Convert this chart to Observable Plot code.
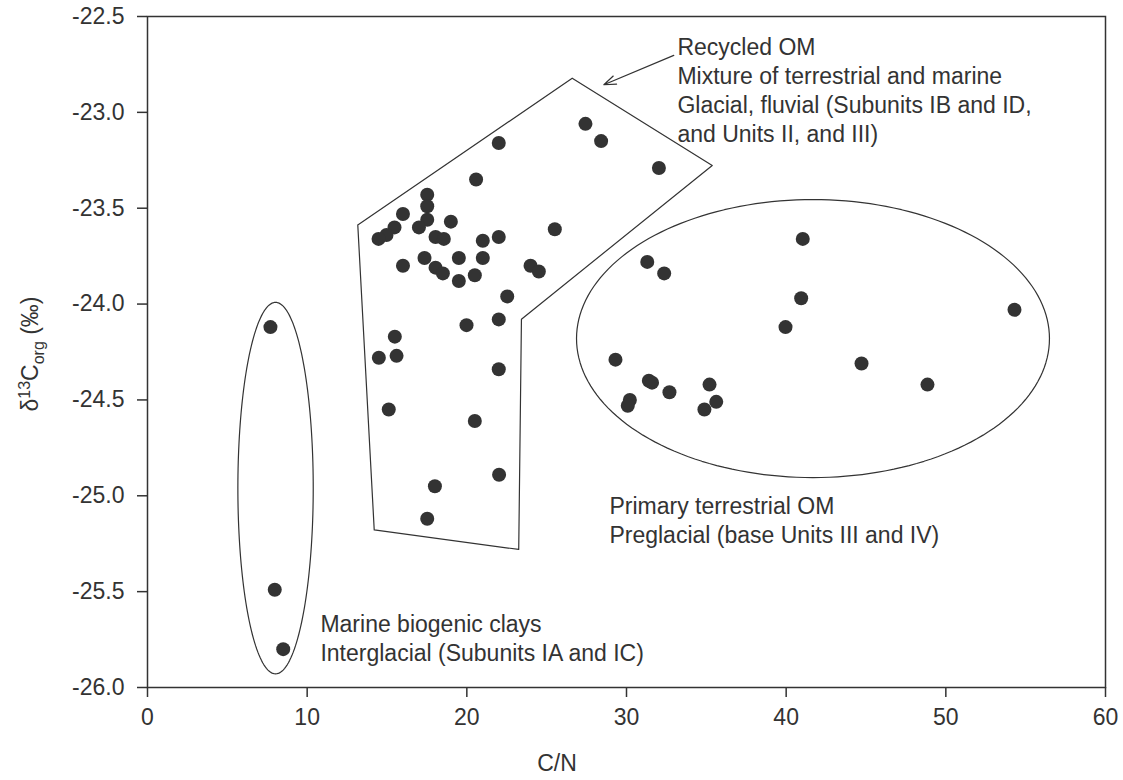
<!DOCTYPE html>
<html><head><meta charset="utf-8">
<script src="https://cdn.jsdelivr.net/npm/d3@7"></script>
<script src="https://cdn.jsdelivr.net/npm/@observablehq/plot@0.6"></script>
<style>
html,body{margin:0;padding:0;background:#fff;}
</style>
</head><body><div id="chart"></div>
<script>
// ---- data ----
const cn = [7.7, 7.97, 8.5,
  22.0, 20.58, 17.52, 17.52, 16.0, 17.52, 19.0, 15.47, 17.0, 14.97, 14.47, 18.04, 18.56, 22.0, 21.0,
  16.0, 17.35, 19.5, 21.0, 18.04, 18.5, 19.5, 20.5, 22.53, 23.99, 24.51, 25.51, 27.43, 28.41,
  22.0, 19.98, 15.49, 14.49, 15.6, 22.0, 15.11, 20.5, 22.02, 18.0, 17.52, 32.03,
  29.31, 31.3, 32.36, 31.4, 31.6, 32.69, 35.2, 35.62, 34.88, 30.21, 30.08,
  41.04, 40.94, 39.96, 44.72, 48.85, 54.3];
const d13c = [-24.12, -25.49, -25.80,
  -23.16, -23.35, -23.43, -23.49, -23.53, -23.56, -23.57, -23.60, -23.60, -23.64, -23.66, -23.65, -23.66, -23.65, -23.67,
  -23.80, -23.76, -23.76, -23.76, -23.81, -23.84, -23.88, -23.85, -23.96, -23.80, -23.83, -23.61, -23.06, -23.15,
  -24.08, -24.11, -24.17, -24.28, -24.27, -24.34, -24.55, -24.61, -24.89, -24.95, -25.12, -23.29,
  -24.29, -23.78, -23.84, -24.40, -24.41, -24.46, -24.42, -24.51, -24.55, -24.50, -24.53,
  -23.66, -23.97, -24.12, -24.31, -24.42, -24.03];

const xTicks = [0, 10, 20, 30, 40, 50, 60];
const yTicks = [-22.5, -23.0, -23.5, -24.0, -24.5, -25.0, -25.5, -26.0];

// recycled-OM outline vertices (data units)
const polyX = [13.17, 26.6, 35.37, 23.42, 23.25, 14.2, 13.17];
const polyY = [-23.587, -22.822, -23.277, -24.079, -25.28, -25.178, -23.587];

// ellipses: centre and half-axes in data units
const ellCx = [8.02, 41.68];
const ellCy = [-24.96, -24.18];
const ellRx = [2.36, 14.81];
const ellRy = [0.969, 0.725];

// arrow (from label to outline)
const arrowFrom = [32.96, -22.703];
const arrowTo = [28.58, -22.856];

const labels = [
  "Recycled OM\nMixture of terrestrial and marine\nGlacial, fluvial (Subunits IB and ID,\nand Units II, and III)",
  "Primary terrestrial OM\nPreglacial (base Units III and IV)",
  "Marine biogenic clays\nInterglacial (Subunits IA and IC)"
];
const labelX = [33.19, 28.93, 10.83];
const labelY = [-22.592, -24.988, -25.602];

// ---- build tables ----
const points = cn.map((x, i) => ({x, y: d13c[i]}));
const poly = polyX.map((x, i) => ({x, y: polyY[i]}));
const ellipses = [];
ellCx.forEach((cx, k) => {
  for (let j = 0; j <= 180; j++) {
    const t = (j / 180) * 2 * Math.PI;
    ellipses.push({k, x: cx + ellRx[k] * Math.cos(t), y: ellCy[k] + ellRy[k] * Math.sin(t)});
  }
});
const labelRows = labels.map((t, i) => ({t, x: labelX[i], y: labelY[i]}));

const ink = "#333";
const fs = 23;
const chart = Plot.plot({
  width: 1123,
  height: 780,
  marginLeft: 147,
  marginRight: 18,
  marginTop: 16,
  marginBottom: 93,
  style: {fontFamily: "'Liberation Sans', Arial, sans-serif", fontSize: fs + "px", color: ink, background: "#fff"},
  x: {domain: [0, 60]},
  y: {domain: [-26, -22.5]},
  marks: [
    Plot.axisX({ticks: xTicks, tickSize: 10, tickPadding: 11, fontSize: fs, label: null, stroke: ink, strokeWidth: 1.5, tickFormat: d => String(d)}),
    Plot.axisY({ticks: yTicks, tickSize: 10, tickPadding: 13, fontSize: fs, label: null, stroke: ink, strokeWidth: 1.5, tickFormat: d => d.toFixed(1)}),
    Plot.frame({stroke: ink, strokeWidth: 1.5}),
    Plot.line(poly, {x: "x", y: "y", stroke: ink, strokeWidth: 1.2}),
    Plot.line(ellipses, {x: "x", y: "y", z: "k", stroke: ink, strokeWidth: 1.2, curve: "linear"}),
    Plot.arrow([0], {x1: () => arrowFrom[0], y1: () => arrowFrom[1], x2: () => arrowTo[0], y2: () => arrowTo[1],
      stroke: ink, strokeWidth: 1.2, headLength: 16, headAngle: 40, bend: 0}),
    Plot.dot(points, {x: "x", y: "y", r: 7, fill: ink, stroke: null}),
    Plot.text(labelRows, {x: "x", y: "y", text: "t", textAnchor: "start", lineAnchor: "top", lineHeight: 29 / fs, fontSize: fs, fill: ink})
  ]
});

// axis titles with super/subscripts
const svg = d3.select(chart);
svg.append("text")
  .attr("x", 557).attr("y", 771)
  .attr("text-anchor", "middle")
  .attr("fill", ink).attr("font-size", fs)
  .text("C/N");
const yl = svg.append("text")
  .attr("transform", "translate(38,354) rotate(-90)")
  .attr("text-anchor", "middle")
  .attr("fill", ink).attr("font-size", fs);
yl.append("tspan").text("δ");
yl.append("tspan").attr("dy", -8).attr("font-size", 16).text("13");
yl.append("tspan").attr("dy", 8).text("C");
yl.append("tspan").attr("dy", 6).attr("font-size", 16).text("org");
yl.append("tspan").attr("dy", -6).text(" (‰)");

document.getElementById("chart").appendChild(chart);
</script>
</body></html>
